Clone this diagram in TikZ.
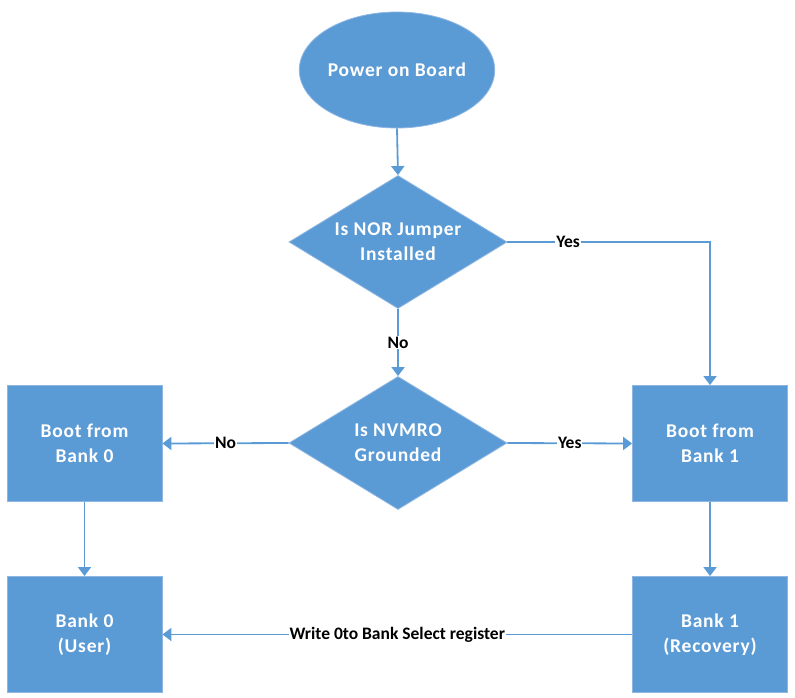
\documentclass[tikz,border=0pt]{standalone}
\usepackage{fontspec}
\setmainfont{Carlito}
\newfontfamily\nodefont[LetterSpace=4]{Carlito}
\usetikzlibrary{shapes.geometric,arrows.meta}
\definecolor{fillblue}{HTML}{5B9BD5}
\definecolor{edgeblue}{HTML}{8DB6E2}
\definecolor{lineblue}{HTML}{5B9BD5}
\begin{document}
\begin{tikzpicture}[x=1pt,y=-1pt,
  shapebase/.style={fill=fillblue, draw=edgeblue, line width=0.8pt, text=white,
    font=\nodefont\fontsize{19.5}{25}\selectfont\bfseries, align=center, inner sep=0pt},
  startnode/.style={shapebase, ellipse, minimum width=186pt, minimum height=116pt},
  decision/.style={shapebase, diamond, aspect=1.66, minimum width=218pt, minimum height=133pt},
  process/.style={shapebase, rectangle, minimum width=155pt, minimum height=116pt},
  flow/.style={draw=lineblue, line width=1.8pt, -{Triangle[width=13pt,length=9pt]}},
  lbl/.style={fill=white, text=black, font=\fontsize{17.5}{20}\selectfont\bfseries, inner sep=1pt}
]
\useasboundingbox (0,0) rectangle (795,698);
\node[startnode] (start) at (397,70) {Power on Board};
\node[decision] (d1) at (398,242) {Is NOR Jumper\\Installed};
\node[decision] (d2) at (398,443) {Is NVMRO\\Grounded};
\node[process] (b0) at (84.5,443.5) {Boot from\\Bank 0};
\node[process] (b1) at (710,443.5) {Boot from\\Bank 1};
\node[process] (u0) at (84.5,634.5) {Bank 0\\(User)};
\node[process] (r1) at (710,634.5) {Bank 1\\(Recovery)};

\draw[flow] (start.south) -- (d1.north);
\draw[flow] (d1.south) -- node[lbl]{No} (d2.north);
\draw[flow] (d1.east) -| node[lbl, pos=0.15]{Yes} (b1.north);
\draw[flow] (d2.west) -- node[lbl]{No} (b0.east);
\draw[flow] (d2.east) -- node[lbl]{Yes} (b1.west);
\draw[flow] (b0.south) -- (u0.north);
\draw[flow] (b1.south) -- (r1.north);
\draw[flow] (r1.west) -- node[lbl]{Write 0to Bank Select register} (u0.east);
\end{tikzpicture}
\end{document}
